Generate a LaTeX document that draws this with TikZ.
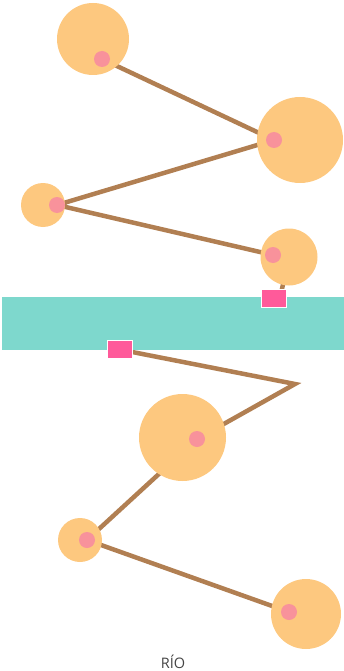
\documentclass[tikz,border=0pt]{standalone}
\usepackage{fontspec}
\setmainfont{Open Sans}
\definecolor{ball}{HTML}{FDC87F}
\definecolor{dotc}{HTML}{F8929B}
\definecolor{rope}{HTML}{B17F52}
\definecolor{river}{HTML}{7ED8CD}
\definecolor{marker}{HTML}{FF5A9A}
\definecolor{labelc}{HTML}{444444}
\begin{document}
\begin{tikzpicture}[x=1pt,y=-1pt,
  ball/.style={circle,fill=ball,inner sep=0pt,minimum size=#1},
  dotn/.style={circle,fill=dotc,inner sep=0pt,minimum size=16pt},
  ropeline/.style={draw=rope,line width=4.5pt,line join=miter},
  markerbox/.style={fill=marker,draw=white,line width=1pt,inner sep=0pt,minimum width=25pt,minimum height=18pt}]
\useasboundingbox (0,0) rectangle (344,671);
% coordinates of dots and circles
\coordinate (c1) at (93,39);
\coordinate (c2) at (300,140);
\coordinate (c3) at (43,205);
\coordinate (c4) at (289,257);
\coordinate (c5) at (182.5,437.5);
\coordinate (c6) at (80,540);
\coordinate (c7) at (306,614);
\coordinate (d1) at (102,59);
\coordinate (d2) at (274,140);
\coordinate (d3) at (57,205);
\coordinate (d4) at (273,255);
\coordinate (d5) at (197,439);
\coordinate (d6) at (87,540);
\coordinate (d7) at (289,612);
\coordinate (bend) at (295,384);
\coordinate (stub) at (280,298);
% ropes
\draw[ropeline] (d1) -- (d2) -- (d3) -- (d4);
\draw[ropeline] (c4) -- (stub);
\draw[ropeline] (119.5,349.5) coordinate (r2c) -- (bend) -- (d5) -- (d6) -- (d7);
% river
\fill[river] (2,297) rectangle (344,350);
% balls
\node[ball=72pt] (b1) at (c1) {};
\node[ball=86pt] (b2) at (c2) {};
\node[ball=44pt] (b3) at (c3) {};
\node[ball=57pt] (b4) at (c4) {};
\node[ball=87pt] (b5) at (c5) {};
\node[ball=44pt] (b6) at (c6) {};
\node[ball=70pt] (b7) at (c7) {};
\foreach \i in {1,...,7} \node[dotn] (p\i) at (d\i) {};
% markers
\node[markerbox] (r1) at (273.5,298) {};
\node[markerbox] (r2) at (r2c) {};
% label
\node[text=labelc,inner sep=0pt,anchor=base,font=\fontsize{14.5}{16}\selectfont] (lbl) at (173,668.5) {RÍO};
\end{tikzpicture}
\end{document}
